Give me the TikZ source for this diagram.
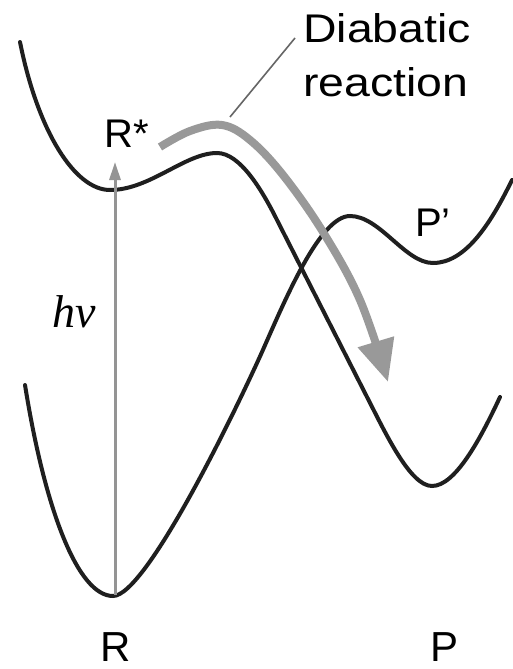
\documentclass[tikz,border=0pt]{standalone}
\usepackage{fontspec}
\setmainfont{Liberation Sans}
\newfontfamily\serifit{Liberation Serif}
\usetikzlibrary{arrows.meta}
\begin{document}
\begin{tikzpicture}[x=1pt,y=-1pt,
  curve/.style={line width=4pt,color=black!88,line cap=round},
  lbl/.style={inner sep=0pt,anchor=base west,font=\fontsize{40}{44}\selectfont},
  graybar/.style={line width=8pt,color=black!40,-{Triangle[length=42pt,width=36pt]}},
  photon/.style={line width=3pt,color=black!42,-{Triangle[length=18pt,width=11pt]}},
  leader/.style={line width=1.6pt,color=black!60}]
\useasboundingbox[fill=white] (0,0) rectangle (512,669);
% upper (excited) surface
\draw[curve] (20,42) .. controls (38,132) and (75,190) .. (110,190)
  .. controls (150,190) and (185,153) .. (217,153)
  .. controls (240,153) and (262,190) .. (277,220)
  -- (367,397)
  .. controls (385,432) and (410,486) .. (432,486)
  .. controls (455,486) and (480,440) .. (500,397);
% lower (ground) surface
\draw[curve] (25,385) .. controls (45,510) and (78,596) .. (113,596)
  .. controls (146,596) and (235,412) .. (262,352)
  .. controls (285,300) and (320,216) .. (350,216)
  .. controls (380,216) and (405,263) .. (433,263)
  .. controls (465,263) and (490,225) .. (512,180);
% labels
\node[lbl] (rstar) at (104,147) {R*};
\node[lbl] (pprime) at (415,236) {P’};
\node[lbl,font=\fontsize{42}{46}\selectfont] (r) at (100,661) {R};
\node[lbl,font=\fontsize{42}{46}\selectfont] (p) at (430,661) {P};
\node[lbl,font=\serifit\itshape\fontsize{46}{50}\selectfont] (hnu) at (52,327) {hν};
\node[lbl] (diab) at (303,43) {\scalebox{1.16}[1]{Diabatic}};
\node[lbl] (react) at (303,96) {\scalebox{1.16}[1]{reaction}};
% photon arrow
\coordinate (ground) at (115,595);
\coordinate (excited) at (115,162);
\draw[photon] (ground) -- (excited);
% diabatic path
\draw[graybar] plot[smooth,tension=0.6] coordinates {(160,147) (190,131) (222,125) (250,140) (283,175) (323,232) (360,300) (388,382)};
% leader line
\coordinate (lead) at (230,117);
\coordinate (leadend) at (295,38);
\draw[leader] (lead) -- (leadend);
\end{tikzpicture}
\end{document}
